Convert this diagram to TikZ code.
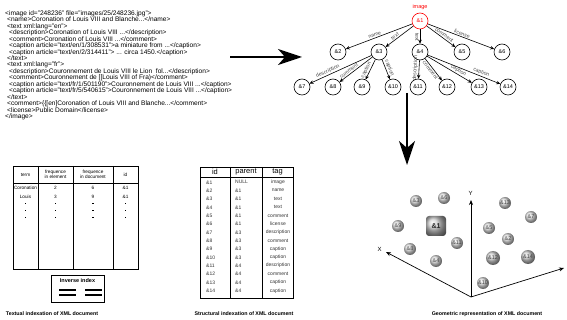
\documentclass[tikz,border=0pt]{standalone}
\usepackage{fontspec}
\setmainfont{Liberation Sans}
\usetikzlibrary{arrows.meta,shapes.misc}
\begin{document}
\begin{tikzpicture}[x=1pt,y=-1pt,
  xmltxt/.style={font=\fontsize{6.6}{6.44}\selectfont,align=left,inner sep=0pt},
  tnode/.style={circle,draw,line width=0.6pt,minimum size=16pt,inner sep=0pt,font=\fontsize{5.5}{6}\selectfont},
  tedge/.style={-{Stealth[length=4pt,width=3.5pt]},line width=0.6pt},
  lbl/.style={font=\fontsize{5.2}{5}\selectfont,text=black!70,sloped,inner sep=1pt},
  bigarrow/.style={line width=1.8pt,-{Stealth[length=24pt,width=16pt,inset=7pt]}},
  cell/.style={font=\fontsize{4.7}{5}\selectfont,inner sep=0pt},
  hcell/.style={font=\fontsize{4.7}{5.4}\selectfont,inner sep=0pt,align=center},
  tcell/.style={font=\fontsize{5}{5}\selectfont,inner sep=0pt,text=black!80},
  ball/.style={circle,ball color=gray!25,minimum size=12pt,inner sep=0pt,font=\fontsize{5.5}{6}\selectfont,text=black!75},
  caption/.style={font=\bfseries\fontsize{5.3}{6}\selectfont}
]
\useasboundingbox (0,0) rectangle (567,320);
% XML source
\node[xmltxt,anchor=north west] (xml) at (5,10.5) {%
<image id="248236" file="images/25/248236.jpg">\\
\hspace*{2pt}<name>Coronation of Louis VIII and Blanche...</name>\\
\hspace*{2pt}<text xml:lang="en">\\
\hspace*{4pt}<description>Coronation of Louis VIII ...</description>\\
\hspace*{4pt}<comment>Coronation of Louis VIII ...</comment>\\
\hspace*{4pt}<caption article="text/en/1/308531">a miniature from ...</caption>\\
\hspace*{4pt}<caption article="text/en/2/314411"> ... circa 1450.</caption>\\
\hspace*{2pt}</text>\\
\hspace*{2pt}<text xml:lang="fr">\\
\hspace*{4pt}<description>Couronnement de Louis VIII le Lion\ \ fol...</description>\\
\hspace*{4pt}<comment>Couronnement de [[Louis VIII of Fra)</comment>\\
\hspace*{4pt}<caption article="text/fr/1/501190">Couronnement de Louis VIII ...</caption>\\
\hspace*{4pt}<caption article="text/fr/5/540615">Couronnement de Louis VIII ...</caption>\\
\hspace*{2pt}</text>\\
\hspace*{2pt}<comment>\{\{[en]Coronation of Louis VIII and Blanche...</comment>\\
\hspace*{2pt}<license>Public Domain</license>\\
</image>};
\coordinate (h1) at (230,57);
\coordinate (h2) at (302,57);
\draw[bigarrow] (h1) -- (h2);
% tree
\node[tnode,draw=red,text=red] (n1) at (420,21) {\&1};
\node[font=\fontsize{5.5}{6}\selectfont,text=red,inner sep=0pt] (img) at (420,7.5) {image};
\foreach \n/\x/\y in {2/338/52,3/379/52,4/420/52,5/462/52,6/502/52,
  7/302/87,8/333/87,9/362/87,10/393/87,11/418/87,12/447/87,13/479/87,14/508/87}
  \node[tnode] (n\n) at (\x,\y) {\&\n};
\draw[tedge] (n1) -- node[lbl,above,pos=0.55]{name} (n2);
\draw[tedge] (n1) -- node[lbl,above,pos=0.6]{text} (n3);
\draw[tedge] (n1) -- node[lbl,below,pos=0.55]{text} (n4);
\draw[tedge] (n1) -- node[lbl,above,pos=0.55]{comment} (n5);
\draw[tedge] (n1) -- node[lbl,above,pos=0.5]{license} (n6);
\draw[tedge] (n3) -- node[lbl,above,pos=0.68]{description} (n7);
\draw[tedge] (n3) -- node[lbl,above,pos=0.66]{comment} (n8);
\draw[tedge] (n3) -- node[lbl,above,pos=0.6]{caption} (n9);
\draw[tedge] (n3) -- node[lbl,above,pos=0.5]{caption} (n10);
\draw[tedge] (n4) -- node[lbl,above,pos=0.45]{description} (n11);
\draw[tedge] (n4) -- node[lbl,below,pos=0.45]{comment} (n12);
\draw[tedge] (n4) -- node[lbl,above,pos=0.66]{caption} (n13);
\draw[tedge] (n4) -- node[lbl,above,pos=0.72]{caption} (n14);
\coordinate (v1) at (407,93);
\coordinate (v2) at (407,165);
\draw[bigarrow] (v1) -- (v2);
% textual index
\draw[line width=0.8pt] (13,166) rectangle (138,269);
\draw[line width=0.8pt] (13,183) -- (138,183);
\foreach \x in {38,73,113} \draw[line width=0.8pt] (\x,166) -- (\x,269);
\node[hcell] (hterm) at (25.5,175) {term};
\node[hcell] (hfel) at (55.5,174.5) {frequence\\in element};
\node[hcell] (hfdoc) at (93,174.5) {frequence\\in document};
\node[hcell] (hid) at (125.5,175) {id};
\node[cell] (t1) at (25.5,188) {Coronation};
\node[cell] (t2) at (25.5,197) {Louis};
\node[cell] (fe1) at (55.5,188) {2};
\node[cell] (fe2) at (55.5,197) {3};
\node[cell] (fd1) at (93,188) {6};
\node[cell] (fd2) at (93,197) {9};
\node[cell] (i1) at (125.5,188) {\&1};
\node[cell] (i2) at (125.5,197) {\&1};
\foreach \y in {203,210,217}
  \foreach \x in {25.5,55.5,93,125.5}
    \fill (\x-0.6,\y) rectangle (\x+0.6,\y+0.6);
\draw[line width=0.8pt] (51,275) rectangle (104,302);
\node[font=\bfseries\fontsize{5.5}{6}\selectfont,inner sep=0pt] (inv) at (77.5,280.5) {Inverse index};
\foreach \y in {290,295}
  \draw[line width=1.1pt] (59,\y) -- (76,\y) (85,\y) -- (102,\y);
\node[caption] (cap1) at (52,314) {Textual indexation of XML document};
% structural index
\draw[line width=0.8pt] (200,167) rectangle (293,298);
\draw[line width=0.8pt] (200,177.5) -- (293,177.5);
\foreach \x in {230,262} \draw[line width=0.8pt] (\x,167) -- (\x,298);
\node[font=\fontsize{7.5}{8}\selectfont,inner sep=0pt] (sid) at (215,172) {id};
\node[font=\fontsize{7.5}{8}\selectfont,inner sep=0pt] (spar) at (246,172) {parent};
\node[font=\fontsize{7.5}{8}\selectfont,inner sep=0pt] (stag) at (277.5,172) {tag};
\foreach \p/\t [count=\r] in {NULL/image,\&1/name,\&1/text,\&1/text,\&1/comment,\&1/license,
  \&3/description,\&3/comment,\&3/caption,\&3/caption,\&4/description,\&4/comment,\&4/caption,\&4/caption}{
  \node[tcell,anchor=west] (sr\r) at (206,182.3+8.34*\r-8.34) {\&\r};
  \node[tcell,anchor=west] (sp\r) at (235,182.3+8.34*\r-8.34) {\p};
  \node[tcell] (st\r) at (278,182.3+8.34*\r-8.34) {\t};
}
\node[caption] (cap2) at (244,314) {Structural indexation of XML document};
% geometric representation
\coordinate (o) at (471,297);
\coordinate (ya) at (471,200);
\coordinate (xa) at (386,252);
\coordinate (za) at (564,268);
\draw[-{Stealth[length=5pt,width=4pt]},line width=0.7pt] (o) -- (ya);
\draw[-{Stealth[length=5pt,width=4pt]},line width=0.7pt] (o) -- (xa);
\draw[-{Stealth[length=5pt,width=4pt]},line width=0.7pt] (o) -- (za);
\node[font=\fontsize{6}{6}\selectfont,inner sep=0pt] (ylab) at (470.5,193) {Y};
\node[font=\fontsize{6}{6}\selectfont,inner sep=0pt] (xlab) at (379.5,249) {X};
\foreach \n/\x/\y in {3/416/201,6/444/198,9/398/226,8/410/249,4/436/261,11/457/243,
  13/505/203,7/531/217,5/489/228,2/508/239,10/483/283}
  \node[ball] (b\n) at (\x,\y) {\&\n};
\foreach \n/\x/\y in {12/493/258,14/528/257}
  \node[ball,ball color=gray!40,minimum size=14pt] (b\n) at (\x,\y) {\&\n};
\node[rounded rectangle,rounded corners=3pt,rectangle,minimum size=20pt,inner sep=0pt,
  ball color=gray!35,font=\bfseries\fontsize{7}{7}\selectfont,text=black!85] (b1) at (436,226) {\&1};
\node[caption] (cap3) at (487,314) {Geometric representation of XML document};
\end{tikzpicture}
\end{document}
